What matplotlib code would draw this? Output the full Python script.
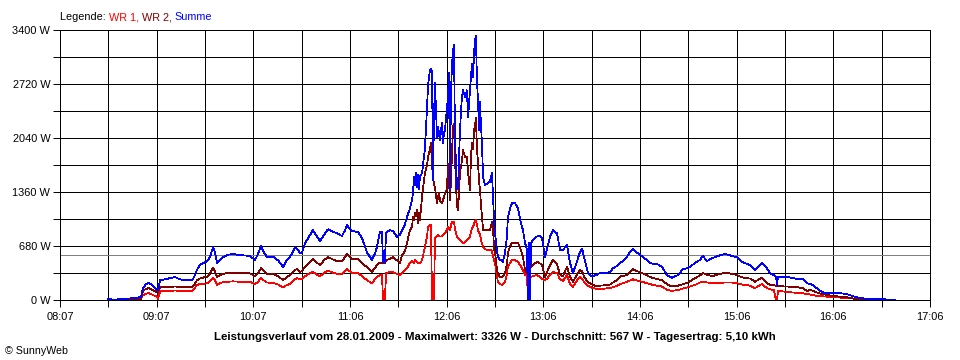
import matplotlib
matplotlib.use("Agg")
import matplotlib.pyplot as plt
import numpy as np

plt.rcParams['font.family'] = ['Liberation Sans', 'DejaVu Sans']

# time in minutes after 08:07
minutes = [29.7, 34.1, 40.3, 46.5, 50.2, 51.4, 53.3, 55.1, 57.0, 58.9, 60.1, 60.7, 62.0, 65.0, 68.1,
           71.2, 74.3, 77.4, 80.5, 82.4, 84.9, 86.7, 89.2, 91.1, 92.9, 94.8, 96.0, 97.3, 99.1, 101.0,
           104.1, 107.2, 111.5, 114.6, 117.7, 120.8, 122.7, 124.5, 126.4, 128.2, 132.0, 135.1, 138.2,
           140.6, 142.5, 145.6, 146.8, 148.7, 149.9, 151.8, 154.3, 156.7, 159.2, 161.1, 163.5, 166.0,
           169.1, 171.6, 174.7, 176.6, 177.8, 179.7, 180.9, 184.6, 187.1, 189.0, 190.2, 192.0, 193.3,
           195.1, 196.4, 198.2, 199.5, 200.1, 201.3, 202.0, 204.4, 206.3, 208.8, 210.6, 211.9, 213.7,
           215.0, 216.8, 218.1, 218.7, 219.3, 219.9, 220.5, 221.2, 221.8, 222.4, 223.0, 224.3, 226.1,
           227.4, 228.0, 229.2, 229.8, 230.5, 231.1, 231.7, 232.3, 233.6, 234.2, 234.8, 235.4, 236.6,
           237.3, 237.9, 238.5, 239.7, 240.4, 241.0, 241.6, 242.2, 242.8, 243.5, 244.1, 244.7, 245.3,
           245.9, 246.6, 247.8, 249.0, 249.7, 250.9, 252.1, 252.8, 254.0, 254.6, 255.2, 255.9, 256.5,
           257.1, 257.7, 258.3, 259.0, 259.6, 260.2, 260.8, 261.4, 262.1, 263.3, 265.1, 266.4, 267.6,
           268.2, 268.9, 269.5, 270.7, 271.3, 272.6, 273.8, 274.4, 275.7, 276.9, 277.5, 278.8, 280.0,
           281.9, 283.7, 285.0, 286.8, 288.1, 289.3, 289.9, 290.6, 291.2, 291.8, 293.0, 295.5, 297.4,
           298.6, 300.5, 302.3, 303.6, 305.4, 307.9, 309.8, 311.6, 314.1, 316.0, 317.8, 319.7, 322.1,
           323.4, 325.2, 327.1, 328.3, 330.2, 332.7, 334.5, 337.6, 340.7, 342.6, 345.1, 346.9, 349.4,
           351.3, 353.1, 355.0, 356.8, 359.3, 360.6, 363.7, 365.5, 367.4, 369.8, 372.9, 376.0, 379.1,
           382.9, 386.0, 389.0, 393.4, 396.5, 398.3, 400.8, 403.9, 407.6, 412.0, 416.3, 419.4, 422.5,
           424.4, 427.5, 430.6, 433.7, 434.9, 438.0, 439.8, 442.3, 443.6, 444.2, 444.8, 447.3, 450.4,
           454.1, 457.2, 460.3, 462.8, 464.6, 466.5, 470.2, 473.3, 476.4, 478.9, 483.2, 487.5, 489.4,
           492.5, 495.6, 499.9, 508.0, 516.0, 517.3]

summe = [10, 5, 15, 25, 40, 150, 200, 215, 190, 150, 125, 125, 250, 260, 275,
         290, 260, 250, 250, 260, 380, 440, 470, 490, 540, 665, 600, 465, 500, 540,
         570, 580, 565, 560, 555, 505, 580, 680, 600, 545, 545, 500, 415,
         505, 545, 655, 650, 590, 600, 715, 800, 880, 800, 740, 820, 890,
         860, 840, 805, 880, 945, 890, 870, 855, 780, 670, 600, 540, 505,
         580, 670, 855, 855, 480, 480, 850, 880, 870, 795, 820, 880, 950,
         1050, 1150, 1260, 1350, 1550, 1450, 1600, 1420, 1580, 1400, 1550, 1600, 1910,
         2430, 2700, 2900, 2910, 2880, 1510, 2300, 2730, 2050, 2180, 2100, 2010, 2230,
         1980, 2100, 2140, 2400, 2560, 2860, 1400, 2600, 2940, 3150, 3210, 2050, 1700,
         1390, 1420, 2140, 2560, 2640, 2560, 2640, 2300, 2640, 2800, 2970, 2810, 3100,
         3270, 3326, 2770, 2500, 2140, 2500, 2200, 1980, 1550, 1450, 1470, 1490, 1600,
         1350, 1000, 840, 620, 545, 505, 500, 480, 590, 800, 1045, 1150, 1220,
         1220, 1155, 1020, 880, 720, 630, 0, 720, 0, 720, 755, 800, 810,
         780, 545, 695, 800, 880, 840, 630, 630, 695, 465, 340, 450, 600,
         650, 500, 340, 310, 300, 320, 340, 340, 350, 400, 430, 465, 500,
         545, 605, 640, 610, 565, 555, 500, 465, 455, 455, 420, 315, 280,
         315, 390, 400, 465, 505, 555, 490, 525, 555, 580, 555, 540, 480,
         465, 440, 380, 440, 465, 400, 340, 310, 290, 190, 290, 285, 290,
         275, 265, 265, 210, 200, 190, 125, 90, 90, 90, 85, 75, 60,
         40, 25, 15, 10, 5, 0]

wr2 = [0, 0, 5, 10, 15, 115, 140, 150, 130, 110, 100, 100, 160, 165, 165,
       170, 165, 165, 160, 170, 250, 270, 285, 290, 330, 405, 360, 290, 310, 330,
       340, 345, 340, 340, 335, 300, 340, 400, 360, 330, 330, 300, 250,
       290, 315, 380, 390, 355, 360, 420, 470, 515, 470, 440, 500, 540,
       510, 490, 490, 540, 580, 540, 515, 515, 470, 430, 420, 380, 355,
       400, 440, 470, 470, 470, 470, 500, 520, 540, 500, 470, 560, 620,
       720, 880, 920, 1045, 1000, 1100, 1050, 1130, 965, 1100, 1000, 1300, 1600,
       1700, 1800, 1900, 1975, 1700, 1550, 1450, 1420, 1220, 1300, 1350, 1250, 1220,
       1260, 1300, 1350, 1385, 1720, 1500, 1260, 1500, 1800, 2180, 2220, 1800, 1470,
       1200, 1130, 1600, 1750, 1890, 1800, 1800, 1600, 1385, 1800, 1975, 1900, 2140,
       2200, 2300, 1900, 1720, 1500, 1385, 1200, 1045, 880, 880, 880, 880, 985,
       945, 630, 600, 380, 330, 290, 290, 300, 340, 450, 590, 680, 720,
       720, 720, 660, 545, 380, 340, 340, 400, 420, 420, 440, 480, 460,
       440, 290, 380, 440, 505, 450, 320, 300, 420, 290, 230, 300, 380,
       360, 275, 230, 210, 190, 170, 180, 185, 195, 220, 250, 295, 305,
       315, 350, 390, 370, 350, 340, 310, 290, 275, 265, 250, 200, 170,
       180, 200, 220, 275, 310, 340, 320, 300, 320, 345, 330, 315, 285,
       280, 270, 230, 270, 275, 210, 190, 185, 178, 175, 175, 172, 170,
       165, 160, 150, 110, 130, 115, 85, 70, 60, 50, 42, 35, 25,
       15, 5, 0, 0, 0, 0]

wr1 = [0, 0, 5, 10, 15, 60, 80, 85, 70, 50, 40, 10, 110, 115, 115,
       120, 115, 115, 110, 120, 190, 200, 205, 210, 240, 280, 250, 190, 210, 225,
       230, 235, 230, 230, 228, 200, 230, 275, 245, 220, 215, 195, 160,
       190, 200, 260, 275, 265, 265, 300, 330, 355, 320, 300, 340, 370,
       345, 330, 330, 360, 390, 360, 340, 340, 300, 270, 250, 225, 210,
       260, 290, 315, 315, 0, 0, 340, 355, 350, 330, 315, 340, 380,
       400, 465, 490, 480, 470, 505, 490, 480, 460, 465, 465, 500, 670,
       800, 920, 945, 940, 0, 0, 0, 780, 800, 820, 810, 800, 800,
       820, 830, 840, 880, 920, 900, 880, 930, 985, 980, 985, 900, 850,
       800, 780, 755, 730, 715, 730, 755, 770, 800, 860, 900, 920, 960,
       990, 1005, 950, 880, 850, 820, 760, 715, 670, 640, 630, 630, 620,
       560, 500, 465, 300, 230, 200, 190, 200, 230, 330, 420, 465, 500,
       505, 480, 440, 380, 315, 315, 0, 290, 290, 290, 300, 315, 290,
       270, 250, 280, 320, 355, 340, 260, 240, 315, 200, 165, 230, 290,
       270, 210, 180, 165, 150, 140, 135, 145, 150, 160, 180, 200, 215,
       230, 245, 260, 250, 235, 230, 210, 200, 190, 180, 170, 130, 115,
       125, 145, 160, 190, 220, 230, 220, 215, 215, 220, 220, 210, 195,
       190, 180, 150, 190, 200, 150, 135, 125, 0, 0, 115, 110, 100,
       95, 90, 85, 75, 70, 60, 50, 45, 40, 35, 30, 28, 25,
       15, 5, 0, 0, 0, 0]

x_labels = ["08:07", "09:07", "10:07", "11:06", "12:06", "13:06", "14:06", "15:06", "16:06", "17:06"]
y_labels = ["0 W", "680 W", "1360 W", "2040 W", "2720 W", "3400 W"]
average_w = 567

W, H = 960, 360
fig = plt.figure(figsize=(W / 100, H / 100), dpi=100)
ax = fig.add_axes([60 / W, 60 / H, 870 / W, 270 / H])

span = 539
ax.set_xlim(0, span)
ax.set_ylim(0, 3400)

xt = np.linspace(0, span, 19)
ax.set_xticks(xt)
ax.set_xticklabels([x_labels[i // 2] if i % 2 == 0 else "" for i in range(19)])
yt = np.linspace(0, 3400, 11)
ax.set_yticks(yt)
ax.set_yticklabels([y_labels[i // 2] if i % 2 == 0 else "" for i in range(11)])

LW = 0.7
DLW = 0.55
ax.grid(True, color="black", linewidth=LW, antialiased=False, zorder=1)
ax.set_axisbelow(True)
ax.axhline(average_w, color="#808080", linewidth=LW, antialiased=False, zorder=1.5)

ax.plot(minutes, wr1, color="#FF0000", linewidth=DLW, antialiased=False, zorder=2)
ax.plot(minutes, wr2, color="#800000", linewidth=DLW, antialiased=False, zorder=2.1)
ax.plot(minutes, summe, color="#0000FF", linewidth=DLW, antialiased=False, zorder=2.2)

for s in ax.spines.values():
    s.set_color("black")
    s.set_linewidth(LW)
    s.set_antialiased(False)
ax.tick_params(axis="both", length=5, width=LW, color="black", labelsize=7.9, pad=2)
ax.tick_params(axis="x", pad=4)

# Legend text
fs_leg = 7.8
t0 = fig.text(60 / W, 1 - 17 / H, "Legende: ", color="black", fontsize=fs_leg, va="center", ha="left")
t1 = ax.annotate("WR 1, ", xy=(1, 0), xycoords=t0, color="#FF0000", fontsize=fs_leg, va="bottom", ha="left")
t2 = ax.annotate("WR 2, ", xy=(1, 0), xycoords=t1, color="#800000", fontsize=fs_leg, va="bottom", ha="left")
t3 = ax.annotate("Summe", xy=(1, 0), xycoords=t2, color="#0000FF", fontsize=fs_leg, va="bottom", ha="left")

fig.text(495 / W, 1 - 337 / H,
         "Leistungsverlauf vom 28.01.2009 - Maximalwert: 3326 W - Durchschnitt: 567 W - Tagesertrag: 5,10 kWh",
         fontsize=8.25, fontweight="bold", ha="center", va="center")
fig.text(5 / W, 1 - 351 / H, "© SunnyWeb", fontsize=7.7, ha="left", va="center")

fig.savefig("out.png", dpi=100)
